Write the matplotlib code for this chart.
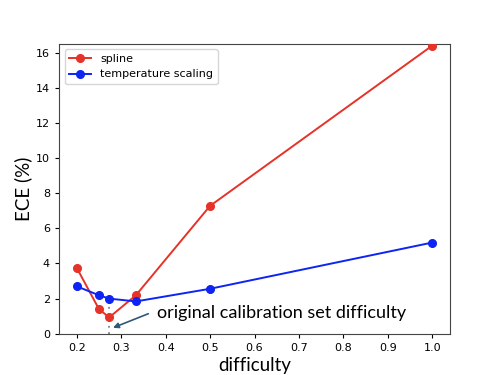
import matplotlib
matplotlib.use("Agg")
import matplotlib.pyplot as plt

difficulty = [0.2, 0.25, 0.273, 0.333, 0.5, 1.0]
spline_ece = [3.75, 1.40, 0.93, 2.19, 7.28, 16.4]
temp_ece = [2.70, 2.19, 2.00, 1.84, 2.56, 5.19]
calib_difficulty = 0.273
annotation_text = "original calibration set difficulty"

red = "#e63228"
blue = "#0d24f2"

fig, ax = plt.subplots(figsize=(5, 3.75), dpi=100)
fig.subplots_adjust(left=0.118, right=0.9, top=0.883, bottom=0.11)

ax.plot(difficulty, spline_ece, "-o", color=red, lw=1.4, ms=5.5, label="spline", zorder=3)
ax.plot(difficulty, temp_ece, "-o", color=blue, lw=1.4, ms=5.5, label="temperature scaling", zorder=3)
ax.vlines(calib_difficulty, 0, temp_ece[2], colors="#808080", linestyles=(0, (1, 2.5)), lw=1.3, zorder=2)

ax.set_ylim(0, 16.5)
ax.set_xticks([0.2, 0.3, 0.4, 0.5, 0.6, 0.7, 0.8, 0.9, 1.0])
ax.set_yticks(range(0, 17, 2))
ax.tick_params(labelsize=8, length=3)
for s in ax.spines.values():
    s.set_color("#444444")

ax.legend(loc="upper left", fontsize=8)

ax.set_xlabel("difficulty", fontsize=13.5, family="Lato", labelpad=3)
ax.set_ylabel("ECE (%)", fontsize=13.5, family="Lato", labelpad=3)

ax.text(0.381, 1.2, annotation_text, fontsize=13, family="Lato", va="center", ha="left")
ax.annotate("", xy=(0.2816, 0.34), xytext=(0.361, 1.14),
            arrowprops=dict(arrowstyle="-|>", color="#2e5878", lw=1.2,
                            shrinkA=0, shrinkB=0, mutation_scale=8))

fig.savefig("out.png", dpi=100)
